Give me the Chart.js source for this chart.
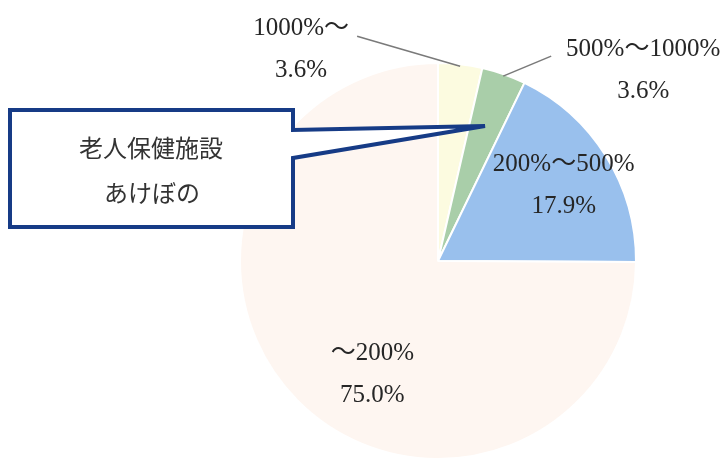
<!DOCTYPE html>
<html lang="ja">
<head>
  <meta charset="UTF-8">
  <title>老人保健施設 あけぼの</title>
  <script src="https://cdn.jsdelivr.net/npm/chart.js"></script>
  <style>
    html, body {
      margin: 0;
      padding: 0;
      background: #fff;
    }
    #wrap {
      width: 725px;
      height: 463px;
    }
  </style>
</head>
<body>

<div id="wrap">
  <canvas id="pieChart" width="725" height="463"></canvas>
</div>

<script>
// slices, clockwise from 12 o'clock
const categories = ["1000%～", "500%～1000%", "200%～500%", "～200%"];
const shares = [3.6, 3.6, 17.9, 75.0];
const sliceColors = ["#fcfbe0", "#a9cea9", "#99c0ed", "#fef6f1"];

const calloutLines = ["老人保健施設", "あけぼの"];

const LABEL_FONT = "25px 'Liberation Serif', 'Noto Sans CJK JP', serif";
const LINE_GAP = 42;

// how each slice label is placed: inside at a fraction of the radius,
// or outside with a leader line that ends at an elbow offset from the rim
const labelLayout = [
  { outside: true, lead: [-103, -30], text: [-56, -8] },
  { outside: true, lead: [48, -20], text: [92, -7] },
  { outside: false, frac: 0.74, shift: 1 },
  { outside: false, frac: 0.66, shift: -15 }
];

const sliceLabels = {
  id: 'sliceLabels',
  afterDatasetsDraw(chart) {
    const ctx = chart.ctx;
    const arcs = chart.getDatasetMeta(0).data;
    ctx.save();
    ctx.font = LABEL_FONT;
    ctx.fillStyle = "#262626";
    ctx.textAlign = "center";
    ctx.textBaseline = "middle";
    arcs.forEach((arc, i) => {
      const p = arc.getProps(['x', 'y', 'startAngle', 'endAngle', 'outerRadius'], true);
      const mid = (p.startAngle + p.endAngle) / 2;
      const lay = labelLayout[i];
      const lines = [categories[i], shares[i].toFixed(1) + "%"];
      let cx, cy;
      if (lay.outside) {
        const ex = p.x + Math.cos(mid) * p.outerRadius * 0.99;
        const ey = p.y + Math.sin(mid) * p.outerRadius * 0.99;
        const bx = ex + lay.lead[0];
        const by = ey + lay.lead[1];
        ctx.strokeStyle = "#7a7a7a";
        ctx.lineWidth = 1.6;
        ctx.beginPath();
        ctx.moveTo(ex, ey);
        ctx.lineTo(bx, by);
        ctx.stroke();
        cx = bx + lay.text[0];
        cy = by + lay.text[1];
      } else {
        const a = mid + lay.shift * Math.PI / 180;
        cx = p.x + Math.cos(a) * p.outerRadius * lay.frac;
        cy = p.y + Math.sin(a) * p.outerRadius * lay.frac - LINE_GAP / 2;
      }
      lines.forEach((t, k) => ctx.fillText(t, cx, cy + k * LINE_GAP));
    });
    ctx.restore();
  }
};

// speech-bubble callout pointing into the pie
const callout = {
  id: 'callout',
  afterDraw(chart) {
    const ctx = chart.ctx;
    ctx.save();
    ctx.beginPath();
    ctx.moveTo(10, 110);
    ctx.lineTo(293, 110);
    ctx.lineTo(293, 130);
    ctx.lineTo(485, 126);
    ctx.lineTo(293, 158);
    ctx.lineTo(293, 227);
    ctx.lineTo(10, 227);
    ctx.closePath();
    ctx.fillStyle = "#fff";
    ctx.fill();
    ctx.lineJoin = "miter";
    ctx.lineWidth = 4;
    ctx.strokeStyle = "#163b86";
    ctx.stroke();

    ctx.font = "24px 'Noto Sans CJK JP', sans-serif";
    ctx.fillStyle = "#333";
    ctx.textAlign = "center";
    ctx.textBaseline = "middle";
    ctx.fillText(calloutLines[0], 151, 148);
    ctx.fillText(calloutLines[1], 152, 193);
    ctx.restore();
  }
};

new Chart(document.getElementById('pieChart'), {
  type: 'pie',
  data: {
    labels: categories,
    datasets: [{
      data: shares,
      backgroundColor: sliceColors,
      borderColor: "#fff",
      borderWidth: 2
    }]
  },
  options: {
    responsive: false,
    animation: false,
    layout: { padding: { top: 62, bottom: 3, left: 239, right: 88 } },
    plugins: {
      legend: { display: false },
      tooltip: { enabled: false }
    }
  },
  plugins: [sliceLabels, callout]
});
</script>

</body>
</html>
